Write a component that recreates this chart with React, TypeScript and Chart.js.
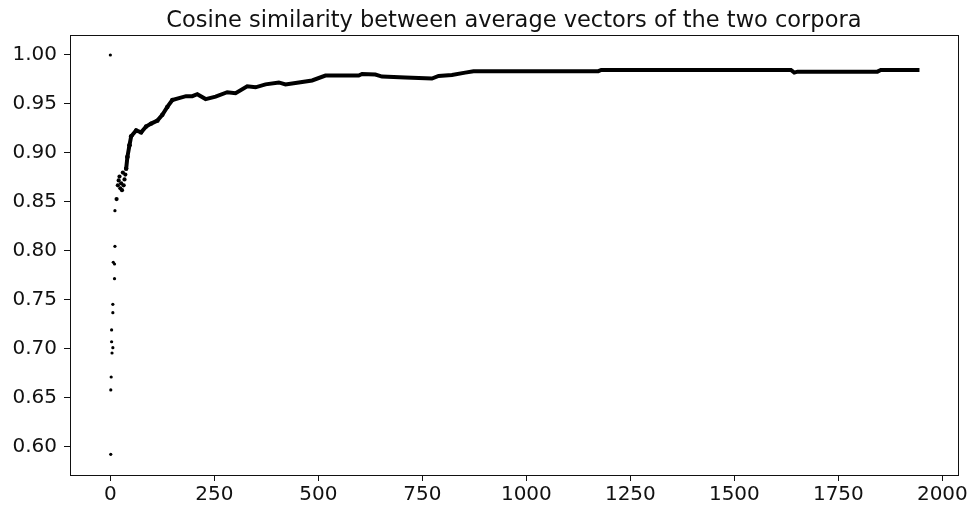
import React, { useEffect, useRef } from "react";
import { Chart, registerables } from "chart.js";

Chart.register(...registerables);

const TITLE = "Cosine similarity between average vectors of the two corpora";

// Early, sparse points (index, similarity)
const sparseX = [0, 1, 1, 2, 3, 3, 4, 6, 6, 6, 7, 10, 10, 11, 11];
const sparseY = [1.0, 0.5925, 0.6582, 0.6714, 0.7194, 0.7074, 0.6959, 0.7013, 0.7456, 0.737, 0.7885, 0.7867, 0.7717, 0.8048, 0.8411];

// Cluster of points just after the start
const clusterX = [15, 18, 20, 22, 24, 26, 28, 30, 32, 34, 36, 38, 41, 46, 50];
const clusterY = [0.853, 0.867, 0.872, 0.876, 0.864, 0.869, 0.862, 0.88, 0.867, 0.873, 0.878, 0.884, 0.896, 0.908, 0.917];

// Dense band of the series, read along its centre
const bandX = [38, 41, 46, 50, 62, 74, 86, 98, 113, 125, 137, 149, 165, 182, 197, 209, 229, 253, 281, 301, 329, 349, 373, 405, 421, 453, 485, 517, 597, 605, 637, 653, 709, 773, 789, 821, 853, 873, 1000, 1173, 1180, 1400, 1636, 1644, 1652, 1844, 1852, 1945];
const bandY = [0.884, 0.896, 0.908, 0.917, 0.923, 0.921, 0.927, 0.93, 0.933, 0.939, 0.947, 0.954, 0.956, 0.958, 0.958, 0.96, 0.955, 0.9575, 0.962, 0.961, 0.968, 0.967, 0.97, 0.972, 0.97, 0.972, 0.974, 0.979, 0.979, 0.9806, 0.98, 0.978, 0.977, 0.976, 0.9786, 0.9796, 0.982, 0.9835, 0.9835, 0.9835, 0.9847, 0.9847, 0.9847, 0.982, 0.983, 0.983, 0.9847, 0.9847];

const xTicks = [0, 250, 500, 750, 1000, 1250, 1500, 1750, 2000];
const yTicks = [0.6, 0.65, 0.7, 0.75, 0.8, 0.85, 0.9, 0.95, 1.0];

const FONT = "'DejaVu Sans', sans-serif";

export default function App() {
  const ref = useRef<HTMLCanvasElement | null>(null);
  useEffect(() => {
    if (!ref.current) return;
    const framePlugin = {
      id: "frameAndTitle",
      afterDraw(chart: any) {
        const { ctx, chartArea } = chart;
        ctx.save();
        ctx.strokeStyle = "#111";
        ctx.lineWidth = 1;
        ctx.strokeRect(
          Math.round(chartArea.left) + 0.5,
          Math.round(chartArea.top) + 0.5,
          Math.round(chartArea.right - chartArea.left),
          Math.round(chartArea.bottom - chartArea.top)
        );
        ctx.fillStyle = "#111";
        ctx.font = "22.5px " + FONT;
        ctx.textAlign = "center";
        ctx.textBaseline = "alphabetic";
        ctx.fillText(TITLE, (chartArea.left + chartArea.right) / 2, 27);
        ctx.restore();
      },
    };
    const chart = new Chart(ref.current, {
      type: "scatter",
      data: {
        datasets: [
          {
            data: bandX.map((x, i) => ({ x, y: bandY[i] })),
            showLine: true,
            borderColor: "#000",
            backgroundColor: "#000",
            borderWidth: 4,
            pointRadius: (c: any) => (c.raw && c.raw.x < 160 ? 2.2 : 0),
            pointBorderWidth: 0,
            tension: 0,
          },
          {
            data: clusterX.map((x, i) => ({ x, y: clusterY[i] })),
            backgroundColor: "#000",
            borderColor: "#000",
            borderWidth: 0,
            pointRadius: 2.1,
          },
          {
            data: sparseX.map((x, i) => ({ x, y: sparseY[i] })),
            backgroundColor: "#000",
            borderColor: "#000",
            borderWidth: 0,
            pointRadius: 1.6,
          },
        ],
      },
      options: {
        animation: false,
        responsive: false,
        maintainAspectRatio: false,
        layout: { padding: { top: 35, right: 11, left: 0, bottom: 0 } },
        plugins: { legend: { display: false }, tooltip: { enabled: false }, title: { display: false } },
        scales: {
          x: {
            type: "linear",
            min: -97,
            max: 2037,
            afterBuildTicks: (s: any) => {
              s.ticks = xTicks.map((v) => ({ value: v }));
            },
            afterFit: (s: any) => {
              s.height = 33;
            },
            grid: { drawOnChartArea: false, drawTicks: true, tickLength: 6, color: "#111" },
            border: { display: false },
            ticks: {
              color: "#111",
              padding: 2,
              maxRotation: 0,
              autoSkip: false,
              font: { family: FONT, size: 20 },
              callback: (v: any) => String(v),
            },
          },
          y: {
            type: "linear",
            min: 0.5714,
            max: 1.0204,
            afterBuildTicks: (s: any) => {
              s.ticks = yTicks.map((v) => ({ value: v }));
            },
            afterFit: (s: any) => {
              s.width = 70;
            },
            grid: { drawOnChartArea: false, drawTicks: true, tickLength: 6, color: "#111" },
            border: { display: false },
            ticks: {
              color: "#111",
              padding: 7,
              autoSkip: false,
              font: { family: FONT, size: 20 },
              callback: (v: any) => Number(v).toFixed(2),
            },
          },
        },
      },
      plugins: [framePlugin],
    });
    return () => chart.destroy();
  }, []);
  return (
    <div style={{ position: "fixed", left: 0, top: 0, width: 970, height: 508, background: "#fff" }}>
      <canvas ref={ref} width={970} height={508} style={{ width: 970, height: 508 }} />
    </div>
  );
}
